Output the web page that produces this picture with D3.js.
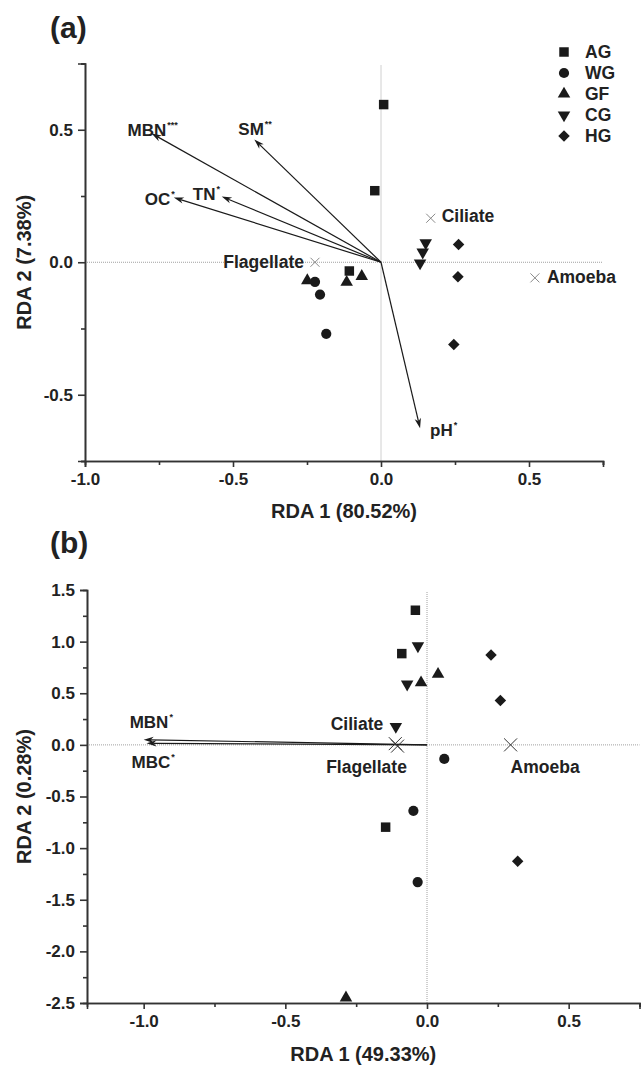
<!DOCTYPE html>
<html><head><meta charset="utf-8">
<script src="https://cdn.jsdelivr.net/npm/d3@7"></script>
<style>
html,body{margin:0;padding:0;background:#fff;}
text{font-family:"Liberation Sans",Arial,sans-serif;font-weight:bold;fill:#222;}
</style></head>
<body><svg id="c" width="641" height="1069"></svg>
<script>
// ---------- DATA ----------
const groups = ["AG","WG","GF","CG","HG"];

// Panel (a)
const aSampleGroup = ["AG","AG","AG","WG","WG","WG","GF","GF","GF","CG","CG","CG","HG","HG","HG"];
const aSampleRDA1  = [0.009,-0.021,-0.107,-0.223,-0.206,-0.185,-0.065,-0.116,-0.249,0.151,0.141,0.132,0.262,0.260,0.246];
const aSampleRDA2  = [0.595,0.270,-0.033,-0.074,-0.122,-0.270,-0.053,-0.075,-0.069,0.073,0.038,-0.003,0.067,-0.055,-0.310];
const aEnvNames = ["MBN","SM","OC","TN","pH"];
const aEnvSig   = ["***","**","*","*","*"];
const aEnvRDA1  = [-0.775,-0.428,-0.700,-0.538,0.132];
const aEnvRDA2  = [0.486,0.463,0.244,0.248,-0.626];
const aSpecNames = ["Ciliate","Amoeba","Flagellate"];
const aSpecRDA1  = [0.168,0.520,-0.223];
const aSpecRDA2  = [0.166,-0.059,0.0];
const aXTicks = [-1.0,-0.5,0.0,0.5];
const aYTicks = [-0.5,0.0,0.5];

// Panel (b)
const bSampleGroup = ["AG","AG","AG","WG","WG","WG","GF","GF","GF","CG","CG","CG","HG","HG","HG"];
const bSampleRDA1  = [-0.041,-0.089,-0.146,0.061,-0.048,-0.033,0.039,-0.021,-0.286,-0.032,-0.070,-0.110,0.226,0.259,0.320];
const bSampleRDA2  = [1.304,0.884,-0.797,-0.136,-0.639,-1.329,0.684,0.603,-2.450,0.958,0.588,0.177,0.871,0.429,-1.126];
const bEnvNames = ["MBN","MBC"];
const bEnvSig   = ["*","*"];
const bEnvRDA1  = [-1.000,-0.990];
const bEnvRDA2  = [0.050,0.015];
const bSpecNames = ["Ciliate","Flagellate","Amoeba"];
const bSpecRDA1  = [-0.112,-0.104,0.295];
const bSpecRDA2  = [0.012,-0.012,0.0];
const bXTicks = [-1.0,-0.5,0.0,0.5];
const bYTicks = [-2.5,-2.0,-1.5,-1.0,-0.5,0.0,0.5,1.0,1.5];

// ---------- LAYOUT ----------
const svg = d3.select("#c");
const ink = "#1a1a1a";
const fmt = v => d3.format(".1f")(v).replace("\u2212","-");

function symbolPath(g){
  const sq = d3.symbol().type(d3.symbolSquare);
  if(g==="AG") return {d: sq.size(90)(), r:0};
  if(g==="WG") return {d: d3.symbol().type(d3.symbolCircle).size(82)(), r:0};
  if(g==="GF") return {d: d3.symbol().type(d3.symbolTriangle).size(68)(), r:0};
  if(g==="CG") return {d: d3.symbol().type(d3.symbolTriangle).size(68)(), r:180};
  return {d: sq.size(66)(), r:45};
}

function drawPanel(o){
  const g = svg.append("g");
  const x = o.x, y = o.y;
  const [x0,x1] = x.range(), [yb,yt] = y.range();
  g.append("line").attr("x1",x(0)).attr("x2",x(0)).attr("y1",yt+2).attr("y2",yb)
    .attr("stroke","#a0a0a0").attr("stroke-width",1).attr("stroke-dasharray","1,1");
  g.append("line").attr("x1",x0).attr("x2",x1).attr("y1",y(0)).attr("y2",y(0))
    .attr("stroke","#a0a0a0").attr("stroke-width",1).attr("stroke-dasharray","1,1");
  const xa = d3.axisBottom(x).tickValues(o.xTicks).tickFormat(fmt).tickSizeOuter(0).tickSize(6).tickPadding(6);
  const xm = d3.axisBottom(x).tickValues(o.xMinor).tickFormat("").tickSizeOuter(0).tickSize(4);
  const ya = d3.axisLeft(y).tickValues(o.yTicks).tickFormat(fmt).tickSizeOuter(0).tickSize(7).tickPadding(5);
  const ym = d3.axisLeft(y).tickValues(o.yMinor).tickFormat("").tickSizeOuter(0).tickSize(4);
  [[xm,"b"],[xa,"b"],[ym,"l"],[ya,"l"]].forEach(([ax,s])=>{
    const gg = g.append("g").attr("transform", s==="b" ? `translate(0,${yb})` : `translate(${x0},0)`).call(ax);
    gg.selectAll("path,line").attr("stroke","#333").attr("stroke-width",1.6);
    gg.selectAll("text").attr("font-size",17).attr("fill","#222").style("font-family",'"Liberation Sans",Arial,sans-serif').style("font-weight","bold");
  });
  g.append("text").attr("x",(x0+x1)/2).attr("y",o.xTitleY).attr("text-anchor","middle").attr("font-size",20).text(o.xTitle);
  g.append("text").attr("transform",`translate(${o.yTitleX},${(yb+yt)/2}) rotate(-90)`).attr("text-anchor","middle")
    .attr("font-size",20).text(o.yTitle);
  g.append("text").attr("x",o.tagX).attr("y",o.tagY).attr("font-size",30).text(o.tag);

  o.envNames.forEach((nm,i)=>{
    const tx = x(o.envX[i]), ty = y(o.envY[i]), ox = x(0), oy = y(0);
    const dx = tx-ox, dy = ty-oy, L = Math.hypot(dx,dy), ux = dx/L, uy = dy/L, nx = -uy, ny = ux;
    const hl = 10, hw = 3.2;
    g.append("line").attr("x1",ox).attr("y1",oy).attr("x2",tx-ux*hl*0.7).attr("y2",ty-uy*hl*0.7)
      .attr("stroke",ink).attr("stroke-width",1.2);
    g.append("path").attr("d",`M${tx},${ty}L${tx-ux*hl+nx*hw},${ty-uy*hl+ny*hw}L${tx-ux*hl*0.7},${ty-uy*hl*0.7}L${tx-ux*hl-nx*hw},${ty-uy*hl-ny*hw}Z`)
      .attr("fill",ink);
    const lp = o.envLabel[i];
    const t = g.append("text").attr("x",tx+lp[0]).attr("y",ty+lp[1]).attr("font-size",17);
    t.append("tspan").text(nm);
    t.append("tspan").attr("dy",-8).attr("dx",1).attr("font-size",9).text(o.envSig[i]);
  });

  o.specNames.forEach((nm,i)=>{
    const cx = x(o.specX[i]), cy = y(o.specY[i]), s = o.crossSize;
    g.append("path").attr("d",`M${cx-s},${cy-s}L${cx+s},${cy+s}M${cx-s},${cy+s}L${cx+s},${cy-s}`)
      .attr("stroke",o.crossColor).attr("stroke-width",1).attr("fill","none");
    const lp = o.specLabel[i];
    g.append("text").attr("x",cx+lp[0]).attr("y",cy+lp[1]).attr("text-anchor",lp[2]).attr("font-size",17.5).text(nm);
  });

  o.sGroup.forEach((gr,i)=>{
    const s = symbolPath(gr);
    g.append("path").attr("d",s.d).attr("fill",ink)
      .attr("transform",`translate(${x(o.sX[i])},${y(o.sY[i])}) rotate(${s.r})`);
  });
}

drawPanel({
  x: d3.scaleLinear([-1,0.75],[85,603]),
  y: d3.scaleLinear([-0.75,0.75],[461,63.5]),
  xTicks:aXTicks, xMinor:[-0.75,-0.25,0.25,0.75],
  yTicks:aYTicks, yMinor:[-0.75,-0.25,0.25,0.75],
  xTitle:"RDA 1 (80.52%)", xTitleY:518, yTitle:"RDA 2 (7.38%)", yTitleX:31,
  tag:"(a)", tagX:50, tagY:38,
  envNames:aEnvNames, envSig:aEnvSig, envX:aEnvRDA1, envY:aEnvRDA2,
  envLabel:[[-24,3],[-16,-5],[-29,7],[-29,3],[10,8]],
  specNames:aSpecNames, specX:aSpecRDA1, specY:aSpecRDA2,
  specLabel:[[11,4,"start"],[12,5,"start"],[-11,6,"end"]],
  crossSize:4.5, crossColor:"#8a8a8a",
  sGroup:aSampleGroup, sX:aSampleRDA1, sY:aSampleRDA2
});

drawPanel({
  x: d3.scaleLinear([-1.2,0.75],[87,639.5]),
  y: d3.scaleLinear([-2.5,1.5],[1003,590]),
  xTicks:bXTicks, xMinor:[-0.75,-0.25,0.25,0.75],
  yTicks:bYTicks, yMinor:[-2.25,-1.75,-1.25,-0.75,-0.25,0.25,0.75,1.25],
  xTitle:"RDA 1 (49.33%)", xTitleY:1061, yTitle:"RDA 2 (0.28%)", yTitleX:31,
  tag:"(b)", tagX:50, tagY:553,
  envNames:bEnvNames, envSig:bEnvSig, envX:bEnvRDA1, envY:bEnvRDA2,
  envLabel:[[-14,-12],[-15,25]],
  specNames:bSpecNames, specX:bSpecRDA1, specY:bSpecRDA2,
  specLabel:[[-12,-14,"end"],[-31,27,"middle"],[0,28,"start"]],
  crossSize:6.5, crossColor:"#333",
  sGroup:bSampleGroup, sX:bSampleRDA1, sY:bSampleRDA2
});

const leg = svg.append("g");
groups.forEach((gr,i)=>{
  const yy = 52 + i*21;
  const s = symbolPath(gr);
  leg.append("path").attr("d",s.d).attr("fill",ink).attr("transform",`translate(564,${yy}) rotate(${s.r})`);
  leg.append("text").attr("x",585).attr("y",yy+6).attr("font-size",17.5).text(gr);
});
</script></body></html>
